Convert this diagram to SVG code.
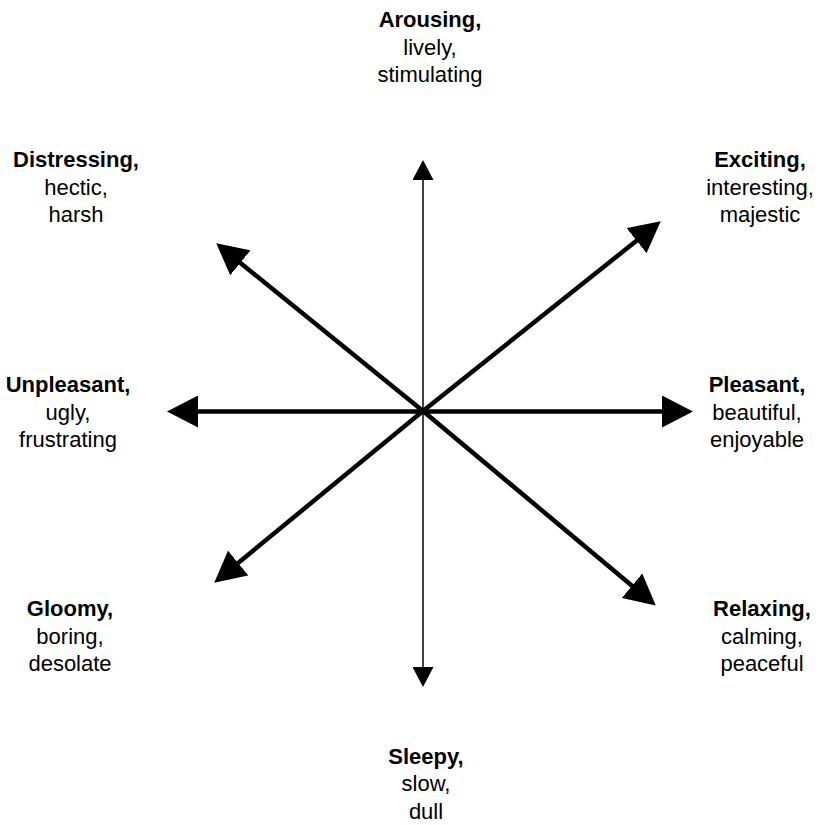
<svg xmlns="http://www.w3.org/2000/svg" width="826" height="825" viewBox="0 0 826 825">
<defs>
<style>
text{font-family:"Liberation Sans",Arial,sans-serif;font-size:22px;fill:#000;text-anchor:middle}
.b{font-weight:bold}
.thick{stroke:#000;stroke-width:4.5;fill:none}
.thin{stroke:#000;stroke-width:1.5;fill:none}
</style>
<marker id="big" markerUnits="userSpaceOnUse" markerWidth="31" markerHeight="32" refX="12" refY="16" orient="auto" viewBox="0 0 31 32">
<path d="M0,0 L31,16 L0,32 Z" fill="#000"/>
</marker>
<marker id="small" markerUnits="userSpaceOnUse" markerWidth="21" markerHeight="21" refX="10" refY="10.5" orient="auto" viewBox="0 0 21 21">
<path d="M0,0 L20,10.5 L0,21 Z" fill="#000"/>
</marker>
</defs>
<rect width="826" height="825" fill="#fff"/>
<g id="connectors">
<line class="thin" x1="423" y1="411" x2="423" y2="170" marker-end="url(#small)"/>
<line class="thin" x1="423" y1="411" x2="423" y2="677" marker-end="url(#small)"/>
<line class="thick" x1="423" y1="411.5" x2="186" y2="411.5" marker-end="url(#big)"/>
<line class="thick" x1="423" y1="411.5" x2="674" y2="411.5" marker-end="url(#big)"/>
<line class="thick" x1="423" y1="411" x2="645.9" y2="233.2" marker-end="url(#big)"/>
<line class="thick" x1="423" y1="411" x2="231" y2="255.3" marker-end="url(#big)"/>
<line class="thick" x1="423" y1="411" x2="228.9" y2="570.6" marker-end="url(#big)"/>
<line class="thick" x1="423" y1="411" x2="641.2" y2="593.4" marker-end="url(#big)"/>
</g>
<g id="arousing"><text x="430" y="27" class="b">Arousing,</text><text x="430" y="55">lively,</text><text x="430" y="82">stimulating</text></g>
<g id="distressing"><text x="76" y="167" class="b">Distressing,</text><text x="76" y="195">hectic,</text><text x="76" y="222">harsh</text></g>
<g id="exciting"><text x="760" y="167" class="b">Exciting,</text><text x="760" y="195">interesting,</text><text x="760" y="222">majestic</text></g>
<g id="unpleasant"><text x="68" y="392" class="b">Unpleasant,</text><text x="68" y="420">ugly,</text><text x="68" y="447">frustrating</text></g>
<g id="pleasant"><text x="757" y="392" class="b">Pleasant,</text><text x="757" y="420">beautiful,</text><text x="757" y="447">enjoyable</text></g>
<g id="gloomy"><text x="70" y="616" class="b">Gloomy,</text><text x="70" y="644">boring,</text><text x="70" y="671">desolate</text></g>
<g id="relaxing"><text x="762" y="616" class="b">Relaxing,</text><text x="762" y="644">calming,</text><text x="762" y="671">peaceful</text></g>
<g id="sleepy"><text x="426" y="764" class="b">Sleepy,</text><text x="426" y="791">slow,</text><text x="426" y="819">dull</text></g>
</svg>
